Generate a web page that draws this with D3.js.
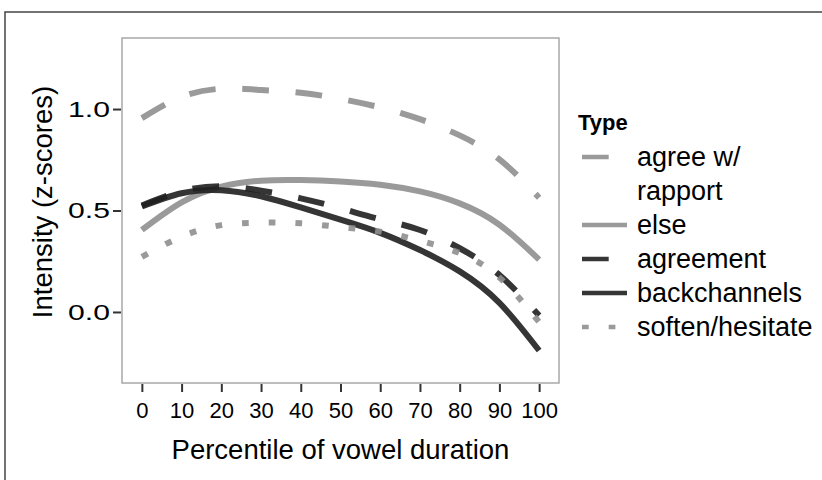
<!DOCTYPE html>
<html>
<head>
<meta charset="utf-8">
<script src="https://cdn.jsdelivr.net/npm/d3@7"></script>
<style>
  body { margin: 0; background: #fff; }
  text { font-family: "Liberation Sans", Arial, sans-serif; }
</style>
</head>
<body>
<div id="chart"></div>
<script>
// Data
const pct = [0, 10, 20, 30, 40, 50, 60, 70, 80, 90, 100]
const agreeRapport = [0.955, 1.06, 1.10, 1.094, 1.08, 1.05, 1.008, 0.95, 0.87, 0.752, 0.563]
const elseVals = [0.404, 0.54, 0.618, 0.647, 0.65, 0.643, 0.627, 0.594, 0.535, 0.43, 0.258]
const agreement = [0.525, 0.595, 0.62, 0.598, 0.56, 0.511, 0.457, 0.404, 0.314, 0.182, -0.018]
const backchannels = [0.52, 0.585, 0.60, 0.57, 0.515, 0.455, 0.39, 0.305, 0.20, 0.045, -0.19]
const soften = [0.272, 0.371, 0.428, 0.44, 0.437, 0.418, 0.396, 0.351, 0.29, 0.17, -0.05]

const seriesNames = ['agree w/ rapport', 'else', 'agreement', 'backchannels', 'soften/hesitate']
const legendLines = [['agree w/', 'rapport'], ['else'], ['agreement'], ['backchannels'], ['soften/hesitate']]
const xTicks = [0, 10, 20, 30, 40, 50, 60, 70, 80, 90, 100]
const yTicks = [0, 0.5, 1.0]

// canvas
const width = 822,
  height = 480,
  panel = { left: 122, right: 559, top: 38, bottom: 383 }
const font = 'Liberation Sans, Arial, sans-serif'

const gray = '#8f8f8f', dark = '#1f1f1f'
const styles = [
  { color: gray, dash: '26.7,26.7' },
  { color: gray, dash: null },
  { color: dark, dash: '26.7,26.7' },
  { color: dark, dash: null },
  { color: gray, dash: '6.7,20' }
]

const series = [agreeRapport, elseVals, agreement, backchannels, soften].map((vals, i) => ({
  name: seriesNames[i],
  values: vals.map((v, j) => ({ x: pct[j], y: v })),
  style: styles[i]
}))

const svg = d3.select('#chart')
  .append('svg')
  .attr('width', width)
  .attr('height', height)
  .attr('font-family', font)

// outer frame
svg.append('path')
  .attr('d', `M5,${height} V12 H${width}`)
  .attr('fill', 'none')
  .attr('stroke', '#444')
  .attr('stroke-width', 1.5)

const x = d3.scaleLinear().domain([-5, 105]).range([panel.left, panel.right])
const y = d3.scaleLinear().domain([-0.35, 1.35]).range([panel.bottom, panel.top])

// panel
svg.append('rect')
  .attr('x', panel.left)
  .attr('y', panel.top)
  .attr('width', panel.right - panel.left)
  .attr('height', panel.bottom - panel.top)
  .attr('fill', '#fff')
  .attr('stroke', '#a8a8a8')
  .attr('stroke-width', 1.5)

const line = d3.line()
  .x(d => x(d.x))
  .y(d => y(d.y))
  .curve(d3.curveNatural)

svg.append('g')
  .selectAll('path')
  .data(series)
  .enter()
  .append('path')
  .attr('d', d => line(d.values))
  .attr('fill', 'none')
  .attr('stroke', d => d.style.color)
  .attr('stroke-opacity', 0.9)
  .attr('stroke-width', 6)
  .attr('stroke-dasharray', d => d.style.dash)

// axes
const stretch = 1.37
let yAxis = svg.append('g')
  .attr('transform', `translate(${panel.left - 1},0)`)
  .call(d3.axisLeft(y).tickValues(yTicks).tickFormat(d3.format('.1f')).tickSize(8).tickPadding(3))
  .attr('font-family', font)
yAxis.select('.domain').remove()
yAxis.selectAll('line').attr('stroke', '#333').attr('stroke-width', 2)
yAxis.selectAll('text')
  .attr('font-size', 22)
  .attr('fill', '#000')
  .attr('x', -11 / stretch)
  .attr('transform', `scale(${stretch},1)`)

let xAxis = svg.append('g')
  .attr('transform', `translate(0,${panel.bottom + 1})`)
  .call(d3.axisBottom(x).tickValues(xTicks).tickSize(8).tickPadding(10))
  .attr('font-family', font)
xAxis.select('.domain').remove()
xAxis.selectAll('line').attr('stroke', '#333').attr('stroke-width', 2)
xAxis.selectAll('text').attr('font-size', 22).attr('fill', '#000')

// axis titles
svg.append('text')
  .attr('x', (panel.left + panel.right) / 2)
  .attr('y', 459)
  .attr('text-anchor', 'middle')
  .attr('font-size', 27.5)
  .attr('fill', '#000')
  .text('Percentile of vowel duration')

svg.append('text')
  .attr('transform', `translate(52,${(87 + 317) / 2}) rotate(-90)`)
  .attr('text-anchor', 'middle')
  .attr('font-size', 27.5)
  .attr('fill', '#000')
  .text('Intensity (z-scores)')

// legend
const legend = svg.append('g').attr('transform', 'translate(578,0)')
legend.append('text')
  .attr('x', 0)
  .attr('y', 130)
  .attr('font-size', 22)
  .attr('font-weight', 'bold')
  .attr('fill', '#000')
  .text('Type')

const step = 34
let rowY = 157
series.forEach((s, i) => {
  let g = legend.append('g').attr('transform', `translate(0,${rowY})`)
  g.append('line')
    .attr('x1', 4).attr('x2', 49)
    .attr('stroke', s.style.color)
    .attr('stroke-opacity', 0.9)
    .attr('stroke-width', 4.5)
    .attr('stroke-dasharray', s.style.dash)
  let t = g.append('text')
    .attr('font-size', 27)
    .attr('fill', '#000')
  legendLines[i].forEach((l, k) => {
    t.append('tspan')
      .attr('x', 59)
      .attr('y', 9 + k * step)
      .text(l)
  })
  rowY += legendLines[i].length * step
})
</script>
</body>
</html>
